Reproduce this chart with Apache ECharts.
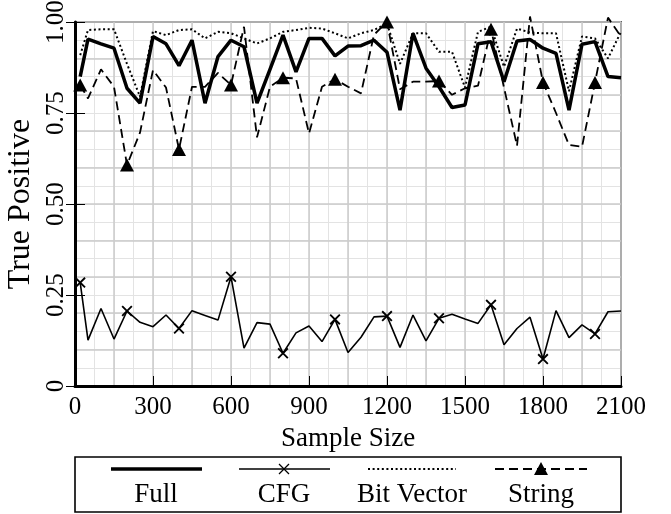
<!DOCTYPE html>
<html>
<head>
<meta charset="utf-8">
<script src="https://cdn.jsdelivr.net/npm/echarts@6/dist/echarts.min.js"></script>
<style>
html,body{margin:0;padding:0;background:#fff;}
#chart{width:671px;height:514px;}
</style>
</head>
<body>
<div id="chart"></div>
<script>
// ---- data ----
const sampleSizes = [20,50,100,150,200,250,300,350,400,450,500,550,600,650,700,750,800,850,900,950,1000,1050,1100,1150,1200,1250,1300,1350,1400,1450,1500,1550,1600,1650,1700,1750,1800,1850,1900,1950,2000,2050,2100];
const seriesNames = ['Full','CFG','Bit Vector','String'];
const fullValues = [0.85,0.953,0.94,0.928,0.818,0.777,0.96,0.94,0.88,0.95,
  0.777,0.905,0.95,0.932,0.777,0.87,0.964,0.863,0.955,0.955,
  0.907,0.934,0.935,0.95,0.917,0.758,0.969,0.873,0.822,0.765,
  0.772,0.94,0.946,0.836,0.948,0.952,0.928,0.914,0.758,0.939,
  0.946,0.85,0.847];
const cfgValues = [0.284,0.126,0.213,0.129,0.206,0.175,0.163,0.195,0.158,0.207,
  0.194,0.181,0.3,0.104,0.174,0.17,0.09,0.146,0.165,0.122,
  0.183,0.092,0.134,0.19,0.192,0.106,0.195,0.124,0.186,0.197,
  0.184,0.172,0.223,0.113,0.158,0.189,0.074,0.207,0.133,0.168,
  0.143,0.204,0.206];
const bitVectorValues = [0.909,0.978,0.98,0.98,0.885,0.795,0.975,0.964,0.978,0.98,
  0.955,0.973,0.969,0.955,0.941,0.955,0.973,0.978,0.984,0.982,
  0.969,0.955,0.969,0.978,0.996,0.885,0.969,0.969,0.918,0.918,
  0.82,0.973,0.987,0.877,0.982,0.971,0.969,0.969,0.81,0.96,
  0.955,0.9,0.973];
const stringValues = [0.827,0.79,0.87,0.822,0.607,0.696,0.868,0.82,0.65,0.822,
  0.822,0.86,0.827,0.987,0.683,0.822,0.847,0.845,0.694,0.822,
  0.843,0.822,0.804,0.965,1.0,0.815,0.836,0.836,0.838,0.8,
  0.818,0.825,0.98,0.82,0.66,1.015,0.834,0.75,0.662,0.657,
  0.834,1.012,0.96];
const yTickValues = [0,0.25,0.5,0.75,1];
const yTickLabels = ['0','0.25','0.50','0.75','1.00'];
const xTickLabels = ['0','300','600','900','1200','1500','1800','2100'];
const markEvery = 4;

// ---- chart ----
const FONT = 'Liberation Serif';
const NUM_SIZE = 25, WORD_SIZE = 27, YNAME_SIZE = 32;
const pairs = vals => sampleSizes.map((x,i)=>[x, vals[i]]);
const crossPath = 'path://M0,1.2L1.2,0L10,8.8L8.8,10Z M8.8,0L10,1.2L1.2,10L0,8.8Z';
const chart = echarts.init(document.getElementById('chart'), null, {renderer:'canvas'});

const grid = {left:75, right:50, top:22, bottom:128, containLabel:false, outerBoundsMode:'none'};
const hiddenX = (extra) => Object.assign({type:'value', min:0, max:2100, axisLabel:{show:false}, axisTick:{show:false}, axisLine:{show:false, onZero:false}}, extra);
const hiddenY = (extra) => Object.assign({type:'value', min:0, max:1, axisLabel:{show:false}, axisTick:{show:false}, axisLine:{show:false, onZero:false}}, extra);

const option = {
  animation:false,
  backgroundColor:'#fff',
  grid: grid,
  xAxis: [
    {type:'value', min:0, max:2100, interval:300, position:'bottom', z:5,
     name:'Sample Size', nameLocation:'middle', nameGap:39,
     nameTextStyle:{fontFamily:FONT, fontSize:WORD_SIZE, color:'#000'},
     axisLine:{show:true, onZero:false, lineStyle:{color:'#000', width:3}},
     axisTick:{show:true, inside:true, length:10, lineStyle:{color:'#000', width:1}},
     axisLabel:{fontFamily:FONT, fontSize:NUM_SIZE, color:'#000', margin:9,
       formatter: v => { const i = Math.round(v/300); return xTickLabels[i] !== undefined ? xTickLabels[i] : ''; }},
     splitLine:{show:false}},
    hiddenX({interval:75, position:'top', z:0,
      axisLine:{show:true, onZero:false, lineStyle:{color:'#555', width:2}},
      splitLine:{show:true, lineStyle:{color:'#e3e3e3', width:1}}}),
    hiddenX({interval:150, position:'bottom', z:1,
      splitLine:{show:true, lineStyle:{color:'#cbcbcb', width:1.5}}})
  ],
  yAxis: [
    {type:'value', min:0, max:1, interval:0.25, position:'left', z:5,
     name:'True Positive', nameLocation:'middle', nameGap:37,
     nameTextStyle:{fontFamily:FONT, fontSize:YNAME_SIZE, color:'#000'},
     axisLine:{show:true, onZero:false, lineStyle:{color:'#000', width:3}},
     axisTick:{show:true, inside:false, length:9, lineStyle:{color:'#000', width:1}},
     axisLabel:{fontFamily:FONT, fontSize:NUM_SIZE, color:'#000', rotate:90, margin:6,
       formatter: v => { const i = yTickValues.findIndex(t => Math.abs(t-v) < 1e-6); return i >= 0 ? yTickLabels[i] : ''; }},
     splitLine:{show:false}},
    hiddenY({interval:0.05, position:'right', z:0,
      axisLine:{show:true, onZero:false, lineStyle:{color:'#555', width:2}},
      splitLine:{show:true, lineStyle:{color:'#e3e3e3', width:1}}}),
    hiddenY({interval:0.1, position:'left', z:1,
      splitLine:{show:true, lineStyle:{color:'#cbcbcb', width:1.5}}}),
    hiddenY({interval:0.25, position:'left', z:6,
      axisTick:{show:true, inside:true, length:10, lineStyle:{color:'#000', width:1}},
      splitLine:{show:false}})
  ],
  series: [
    {name:seriesNames[0], type:'line', data:pairs(fullValues), symbol:'none', clip:false, z:10,
     lineStyle:{color:'#000', width:3.5}, itemStyle:{color:'#000'}},
    {name:seriesNames[1], type:'line', data:pairs(cfgValues), clip:false, z:10,
     showAllSymbol:true,
     symbol:(v,p)=> p.dataIndex % markEvery === 0 ? crossPath : 'none', symbolSize:11,
     lineStyle:{color:'#000', width:1.6}, itemStyle:{color:'#000'}},
    {name:seriesNames[2], type:'line', data:pairs(bitVectorValues), symbol:'none', clip:false, z:10,
     lineStyle:{color:'#000', width:2, type:[2,2.6]}, itemStyle:{color:'#000'}},
    {name:seriesNames[3], type:'line', data:pairs(stringValues), clip:false, z:10,
     showAllSymbol:true,
     symbol:(v,p)=> p.dataIndex % markEvery === 0 ? 'triangle' : 'none', symbolSize:[14,13],
     lineStyle:{color:'#000', width:1.8, type:[9,5]}, itemStyle:{color:'#000'}}
  ],
  graphic: (function(){
    const els = [];
    const top = 457, h = 55, lineY = 469, textY = 495;
    els.push({type:'rect', shape:{x:75, y:top, width:546, height:h}, style:{fill:'#fff', stroke:'#000', lineWidth:1.6}});
    const cols = [{x1:111,x2:202,c:156},{x1:239,x2:330,c:284},{x1:368,x2:456,c:412},{x1:495,x2:587,c:541}];
    // Full
    els.push({type:'line', shape:{x1:cols[0].x1,y1:lineY,x2:cols[0].x2,y2:lineY}, style:{stroke:'#000', lineWidth:3.5}});
    // CFG
    els.push({type:'line', shape:{x1:cols[1].x1,y1:lineY,x2:cols[1].x2,y2:lineY}, style:{stroke:'#000', lineWidth:1.6}});
    els.push({type:'line', shape:{x1:cols[1].c-5,y1:lineY-5,x2:cols[1].c+5,y2:lineY+5}, style:{stroke:'#000', lineWidth:1.3}});
    els.push({type:'line', shape:{x1:cols[1].c-5,y1:lineY+5,x2:cols[1].c+5,y2:lineY-5}, style:{stroke:'#000', lineWidth:1.3}});
    // Bit Vector
    els.push({type:'line', shape:{x1:cols[2].x1,y1:lineY,x2:cols[2].x2,y2:lineY}, style:{stroke:'#000', lineWidth:2, lineDash:[2,2.6]}});
    // String
    els.push({type:'line', shape:{x1:cols[3].x1,y1:lineY,x2:cols[3].x2,y2:lineY}, style:{stroke:'#000', lineWidth:1.8, lineDash:[9,5]}});
    els.push({type:'polygon', shape:{points:[[cols[3].c,lineY-7],[cols[3].c-7,lineY+6],[cols[3].c+7,lineY+6]]}, style:{fill:'#000'}});
    seriesNames.forEach((n,i)=>{
      els.push({type:'text', x:cols[i].c, y:textY, style:{text:n, fontFamily:FONT, fontSize:WORD_SIZE, fill:'#000', align:'center', verticalAlign:'middle'}});
    });
    return els;
  })()
};
chart.setOption(option);
</script>
</body>
</html>
